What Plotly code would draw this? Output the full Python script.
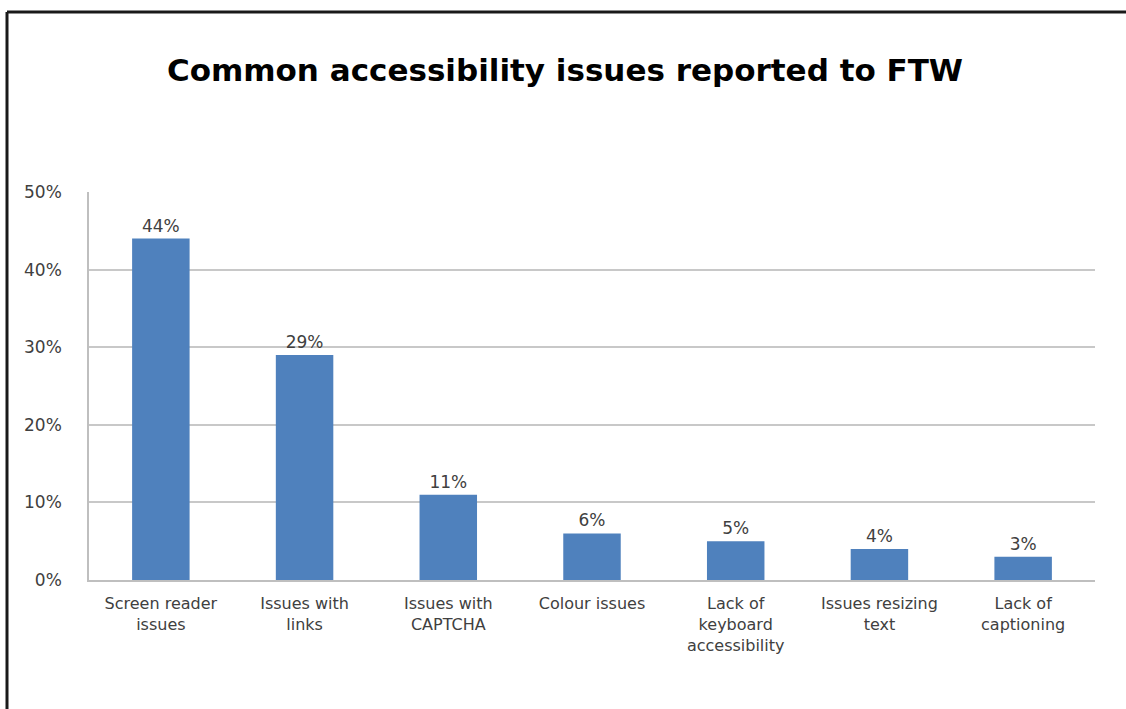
import plotly.graph_objects as go

categories = ["Screen reader<br>issues", "Issues with<br>links", "Issues with<br>CAPTCHA",
              "Colour issues", "Lack of<br>keyboard<br>accessibility",
              "Issues resizing<br>text", "Lack of<br>captioning"]
values = [0.44, 0.29, 0.11, 0.06, 0.05, 0.04, 0.03]
labels = ["44%", "29%", "11%", "6%", "5%", "4%", "3%"]
y_ticks = [0, 0.1, 0.2, 0.3, 0.4, 0.5]
y_tick_text = ["0%", "10%", "20%", "30%", "40%", "50%"]

FONT = "DejaVu Sans"
W, H = 1126, 709
L, R, T, B = 89, 31, 192, 129
pw, ph = W - L - R, H - T - B

def px_x(x):
    return (x - L) / pw

def px_y(y):
    return (H - B - y) / ph

fig = go.Figure(go.Bar(
    x=categories, y=values,
    marker=dict(color="#4F81BD", line=dict(width=0)),
    text=labels, textposition="outside", cliponaxis=False,
    textfont=dict(family=FONT, size=17, color="#404040"),
))

fig.update_layout(
    width=W, height=H,
    margin=dict(l=L, r=R, t=T, b=B),
    paper_bgcolor="white", plot_bgcolor="white",
    showlegend=False, bargap=0.6,
    title=dict(text="<b>Common accessibility issues reported to FTW</b>",
               x=565 / W, xanchor="center", y=1 - 70 / H, yanchor="middle",
               font=dict(family=FONT, size=31, color="black")),
    xaxis=dict(showgrid=False, showline=True, linecolor="#BFBFBF", linewidth=1.5,
               ticks="", ticklabelstandoff=8,
               tickfont=dict(family=FONT, size=16, color="#404040")),
    yaxis=dict(range=[0, 0.5], tickvals=y_ticks, ticktext=y_tick_text,
               showgrid=True, gridcolor="#C8C8C8", gridwidth=1.5,
               showline=True, linecolor="#BFBFBF", linewidth=1.5,
               zeroline=False, ticks="", ticklabelstandoff=22,
               tickfont=dict(family=FONT, size=17, color="#404040")),
)

# outer frame (top and left edges visible in the reference)
fig.add_shape(type="line", xref="paper", yref="paper",
              x0=px_x(7), x1=px_x(1200), y0=px_y(12), y1=px_y(12),
              line=dict(color="#1A1A1A", width=3))
fig.add_shape(type="line", xref="paper", yref="paper",
              x0=px_x(7), x1=px_x(7), y0=px_y(12), y1=px_y(800),
              line=dict(color="#1A1A1A", width=3))

fig.write_html("out.html")
